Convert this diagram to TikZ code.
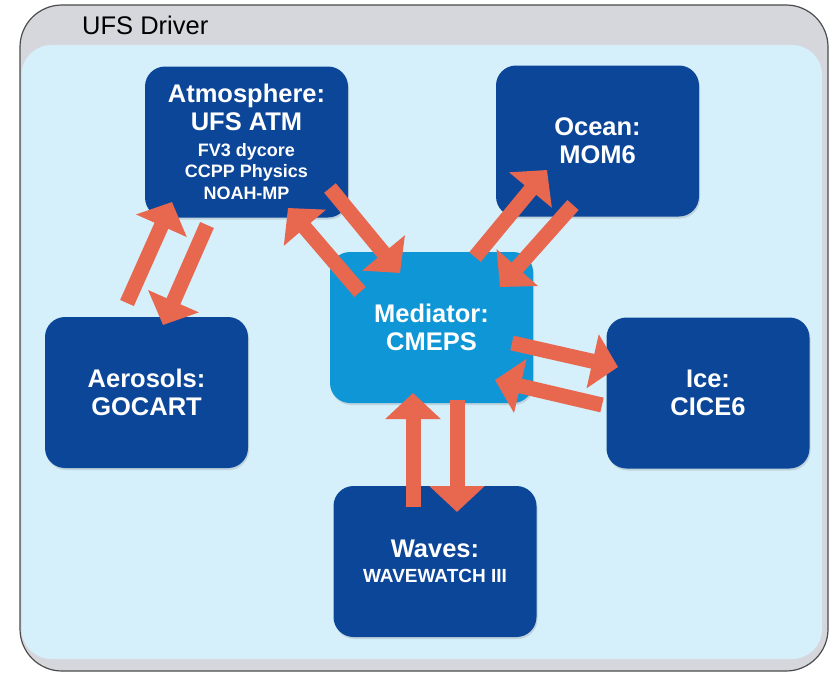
\documentclass[tikz,border=0pt]{standalone}
\usepackage{fontspec}
\setmainfont{Liberation Sans}
\usetikzlibrary{arrows.meta,shadows}
\definecolor{outergray}{RGB}{213,215,220}
\definecolor{innerblue}{RGB}{213,240,251}
\definecolor{boxblue}{RGB}{12,70,152}
\definecolor{medblue}{RGB}{14,150,214}
\definecolor{arrowred}{RGB}{232,104,79}
\tikzset{
  comp/.style={draw=none, fill=boxblue, rounded corners=20pt, minimum width=203pt,
    minimum height=151pt, inner sep=0pt, outer sep=0pt, align=center, text=white,
    font=\bfseries\fontsize{25.5}{28}\selectfont,
    drop shadow={shadow xshift=1pt, shadow yshift=-2pt, opacity=0.25}},
  medbox/.style={comp, fill=medblue},
  flow/.style={draw=arrowred, line width=15pt,
    -{Triangle[width=54pt,length=26pt]}}
}
\begin{document}
\begin{tikzpicture}[x=1pt,y=-1pt]
\useasboundingbox (0,0) rectangle (829,677);
\fill[white] (0,0) rectangle (829,677);
% driver frame
\draw[draw=black!70, line width=1.2pt, fill=outergray, rounded corners=42pt]
  (20,5) rectangle (828,671);
\fill[innerblue, rounded corners=30pt] (21.5,45) rectangle (822,659);
\node[anchor=base west, font=\fontsize{25.5}{28}\selectfont, inner sep=0pt] (title) at (82,35) {UFS Driver};
% components
\node[comp] (atm) at (246.5,142)
  {Atmosphere:\\UFS ATM\\[-2pt]
   {\fontsize{18}{21.5}\selectfont FV3 dycore}\\[-6.5pt]
   {\fontsize{18}{21.5}\selectfont CCPP Physics}\\[-6pt]
   {\fontsize{18}{21.5}\selectfont NOAH-MP}};
\node[comp] (ocean) at (597.5,141) {Ocean:\\MOM6};
\node[medbox] (med) at (431.5,327.5) {Mediator:\\CMEPS};
\node[comp] (aer) at (146.5,392.5) {Aerosols:\\GOCART};
\node[comp] (ice) at (708,393) {Ice:\\CICE6};
\node[comp] (waves) at (435,561.5) {Waves:\\[-3pt]{\fontsize{19}{22}\selectfont WAVEWATCH III}};
% connector end points
\coordinate (a1s) at (127,303); \coordinate (a1e) at (172,202);
\coordinate (a2s) at (207,225); \coordinate (a2e) at (163,325);
\coordinate (a3s) at (360,292); \coordinate (a3e) at (288,208);
\coordinate (a4s) at (330,188); \coordinate (a4e) at (400,273);
\coordinate (a5s) at (475,257); \coordinate (a5e) at (547,170);
\coordinate (a6s) at (573,205); \coordinate (a6e) at (500,287);
\coordinate (a7s) at (512,343); \coordinate (a7e) at (618,367);
\coordinate (a8s) at (602,405); \coordinate (a8e) at (495,380);
\coordinate (a9s) at (413,507); \coordinate (a9e) at (413,393);
\coordinate (a10s) at (457,400); \coordinate (a10e) at (457,512);
% connectors
\draw[flow] (a1s) -- (a1e);
\draw[flow] (a2s) -- (a2e);
\draw[flow] (a3s) -- (a3e);
\draw[flow] (a4s) -- (a4e);
\draw[flow] (a5s) -- (a5e);
\draw[flow] (a6s) -- (a6e);
\draw[flow] (a7s) -- (a7e);
\draw[flow] (a8s) -- (a8e);
\draw[flow] (a9s) -- (a9e);
\draw[flow] (a10s) -- (a10e);
\end{tikzpicture}
\end{document}
